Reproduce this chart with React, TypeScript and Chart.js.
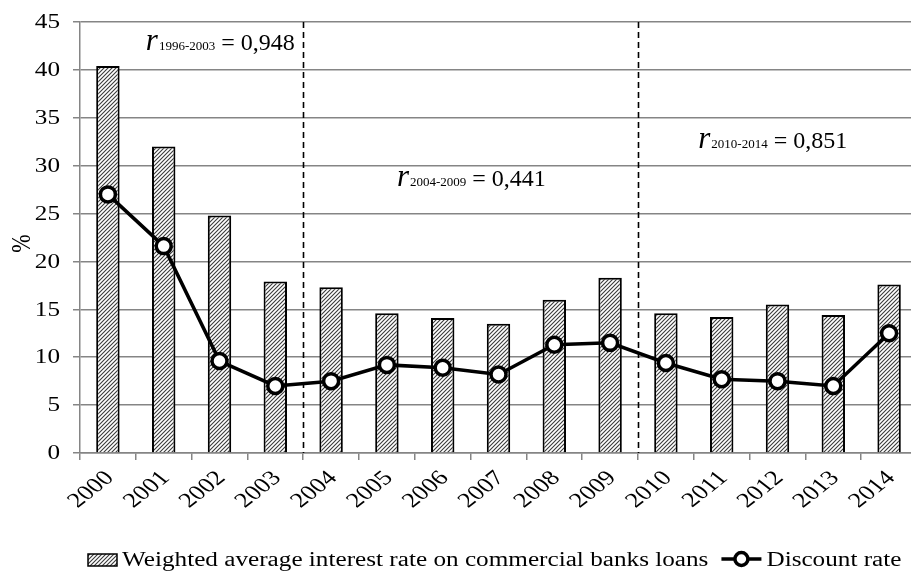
import React, { useEffect, useRef } from "react";
import { Chart, registerables } from "chart.js";

Chart.register(...registerables);

const years = ["2000","2001","2002","2003","2004","2005","2006","2007","2008","2009","2010","2011","2012","2013","2014"];
const loanRate = [40.4, 32.0, 24.8, 17.9, 17.3, 14.6, 14.1, 13.5, 16.0, 18.3, 14.6, 14.2, 15.5, 14.4, 17.6];
const discountRate = [27.0, 21.6, 9.6, 7.0, 7.5, 9.2, 8.9, 8.2, 11.3, 11.5, 9.4, 7.7, 7.5, 7.0, 12.5];
const yTicks = { min: 0, max: 45, step: 5 };
const periodBreaks = [3.5, 9.5];
const annotations = [
  { sub: "1996-2003", value: "0,948", x: 0.68, y: 42.05 },
  { sub: "2004-2009", value: "0,441", x: 5.18, y: 27.9 },
  { sub: "2010-2014", value: "0,851", x: 10.58, y: 31.8 },
];
const seriesNames = ["Weighted average interest rate on commercial banks loans", "Discount rate"];
const yTitle = "%";

const FONT = "'Liberation Serif', 'Times New Roman', serif";
const GRID = "#858585";
const STRETCH = 1.26;

function makeHatch(): CanvasPattern | string {
  const c = document.createElement("canvas");
  const s = 4;
  c.width = s; c.height = s;
  const g = c.getContext("2d");
  if (!g) return "#ccc";
  g.fillStyle = "#ffffff";
  g.fillRect(0, 0, s, s);
  g.strokeStyle = "#3a3a3a";
  g.lineWidth = 1.1;
  g.beginPath();
  g.moveTo(-1, s + 1); g.lineTo(s + 1, -1);
  g.moveTo(-s / 2 - 1, s / 2 + 1); g.lineTo(s / 2 + 1, -s / 2 - 1);
  g.moveTo(s / 2 - 1, s + s / 2 + 1); g.lineTo(s + s / 2 + 1, s / 2 - 1);
  g.stroke();
  const p = g.createPattern(c, "repeat");
  return p || "#ccc";
}

function stretchedText(ctx: CanvasRenderingContext2D, text: string, x: number, y: number, align: CanvasTextAlign, baseline: CanvasTextBaseline, rot = 0) {
  ctx.save();
  ctx.translate(x, y);
  ctx.scale(STRETCH, 1);
  if (rot) ctx.rotate(rot);
  ctx.textAlign = align;
  ctx.textBaseline = baseline;
  ctx.fillText(text, 0, 0);
  ctx.restore();
}

export default function App() {
  const ref = useRef<HTMLCanvasElement | null>(null);
  useEffect(() => {
    if (!ref.current) return;
    const hatch = makeHatch();

    const overlay = {
      id: "overlay",
      beforeDatasetsDraw(chart: any) {
        const { ctx, chartArea } = chart;
        const xs = chart.scales.x;
        ctx.save();
        ctx.strokeStyle = "#000";
        ctx.lineWidth = 1.6;
        ctx.setLineDash([6, 4]);
        for (const b of periodBreaks) {
          const px = Math.round(xs.getPixelForValue(b)) + 0.5;
          ctx.beginPath();
          ctx.moveTo(px, chartArea.top);
          ctx.lineTo(px, chartArea.bottom);
          ctx.stroke();
        }
        ctx.restore();
      },
      afterDraw(chart: any) {
        const { ctx, chartArea } = chart;
        const xs = chart.scales.x;
        const ys = chart.scales.y;
        ctx.save();
        ctx.fillStyle = "#000";

        // y tick labels
        ctx.font = `20px ${FONT}`;
        for (const t of ys.ticks) {
          stretchedText(ctx, String(t.value), chartArea.left - 20, ys.getPixelForValue(t.value) + 1, "right", "middle");
        }
        // x tick labels
        ctx.font = `21px ${FONT}`;
        years.forEach((lab, i) => {
          const cx = xs.getPixelForValue(i);
          stretchedText(ctx, lab, cx + 2, chartArea.bottom + 22, "right", "middle", -Math.PI / 4);
        });
        // y title
        ctx.font = `22px ${FONT}`;
        ctx.save();
        ctx.translate(23, (chartArea.top + chartArea.bottom) / 2 + 6);
        ctx.scale(STRETCH, 1);
        ctx.rotate(-Math.PI / 2);
        ctx.textAlign = "center";
        ctx.textBaseline = "middle";
        ctx.fillText(yTitle, 0, 0);
        ctx.restore();

        // annotations
        ctx.textBaseline = "alphabetic";
        ctx.textAlign = "left";
        for (const a of annotations) {
          let px = xs.getPixelForValue(a.x);
          const py = ys.getPixelForValue(a.y);
          ctx.font = `italic 31px ${FONT}`;
          ctx.fillText("r", px, py);
          px += ctx.measureText("r").width + 1;
          ctx.font = `13px ${FONT}`;
          ctx.fillText(a.sub, px, py);
          px += ctx.measureText(a.sub).width;
          ctx.font = `24px ${FONT}`;
          ctx.fillText(" = " + a.value, px, py);
        }

        // legend
        const base = 566;
        let lx = 88;
        ctx.fillStyle = hatch as any;
        ctx.fillRect(lx, 554, 29, 12);
        ctx.strokeStyle = "#000";
        ctx.lineWidth = 1.5;
        ctx.strokeRect(lx, 554, 29, 12);
        lx += 34;
        ctx.fillStyle = "#000";
        ctx.font = `20px ${FONT}`;
        stretchedText(ctx, seriesNames[0], lx, base, "left", "alphabetic");
        lx += ctx.measureText(seriesNames[0]).width * STRETCH + 13;
        ctx.lineWidth = 3.5;
        ctx.beginPath();
        ctx.moveTo(lx, 559);
        ctx.lineTo(lx + 40, 559);
        ctx.stroke();
        ctx.beginPath();
        ctx.arc(lx + 20, 559, 6.5, 0, Math.PI * 2);
        ctx.fillStyle = "#fff";
        ctx.fill();
        ctx.stroke();
        lx += 45;
        ctx.fillStyle = "#000";
        stretchedText(ctx, seriesNames[1], lx, base, "left", "alphabetic");
        ctx.restore();
      },
    };

    const chart = new Chart(ref.current, {
      type: "bar",
      data: {
        labels: years,
        datasets: [
          {
            type: "line",
            label: seriesNames[1],
            data: discountRate,
            borderColor: "#000",
            borderWidth: 3.5,
            pointRadius: 7.5,
            pointBorderWidth: 3.5,
            pointBackgroundColor: "#fff",
            pointBorderColor: "#000",
            tension: 0,
            order: 0,
          } as any,
          {
            type: "bar",
            label: seriesNames[0],
            data: loanRate,
            backgroundColor: hatch as any,
            borderColor: "#000",
            borderWidth: 2,
            borderSkipped: "start",
            categoryPercentage: 0.42,
            barPercentage: 1,
            order: 1,
          },
        ],
      },
      options: {
        animation: false,
        responsive: true,
        maintainAspectRatio: false,
        layout: { padding: { top: 22, left: 0, right: 14, bottom: 0 } },
        plugins: { legend: { display: false }, tooltip: { enabled: false } },
        scales: {
          x: {
            offset: true,
            grid: {
              display: true,
              offset: true,
              drawOnChartArea: false,
              drawTicks: true,
              tickLength: 7,
              color: GRID,
              lineWidth: 1.5,
            },
            border: { display: true, color: GRID, width: 1.5 },
            ticks: { display: false, autoSkip: false },
            afterFit(scale: any) { scale.height = 571 - 453; },
          },
          y: {
            min: yTicks.min,
            max: yTicks.max,
            ticks: { stepSize: yTicks.step, display: false },
            grid: { color: GRID, lineWidth: 1.5, tickLength: 7 },
            border: { display: true, color: GRID, width: 1.5 },
            afterFit(scale: any) { scale.width = 80; },
          },
        },
      },
      plugins: [overlay],
    });
    return () => chart.destroy();
  }, []);

  return (
    <div style={{ position: "fixed", left: 0, top: 0, width: 911, height: 571, overflow: "hidden", background: "#fff" }}>
      <div style={{ position: "absolute", left: 0, top: 0, width: 931, height: 571 }}>
        <canvas ref={ref} />
      </div>
    </div>
  );
}
